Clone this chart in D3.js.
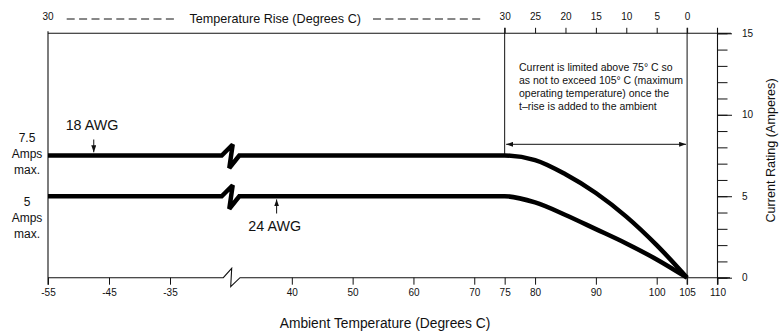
<!DOCTYPE html>
<html>
<head>
<meta charset="utf-8">
<script src="https://cdn.jsdelivr.net/npm/d3@7"></script>
<style>
  body { margin: 0; background: #fff; }
  svg text { font-family: "Liberation Sans", Arial, Helvetica, sans-serif; fill: #111; }
</style>
</head>
<body>
<script>
'use strict';
// values
const ambientTicks = [-55, -45, -35, 40, 50, 60, 70, 75, 80, 90, 100, 105, 110];
const riseTicks = [30, 25, 20, 15, 10, 5, 0];
const currentMinorTicks = [0, 1, 2, 3, 4, 5, 6, 7, 8, 9, 10, 11, 12, 13, 14, 15];
const currentLabels = [0, 5, 10, 15];
const lineTemps = [-55, -25, 30, 75, 80, 85, 90, 95, 100, 105];
const awg18Amps = [7.5, 7.5, 7.5, 7.5, 7.22, 6.35, 5.2, 3.75, 2.0, 0];
const awg24Amps = [5, 5, 5, 5, 4.62, 3.85, 2.98, 2.1, 1.12, 0];
const maxLabel18 = ["7.5", "Amps", "max."];
const maxLabel24 = ["5", "Amps", "max."];
const noteLines = [
  "Current is limited above 75\u00b0 C so",
  "as not to exceed 105\u00b0 C (maximum",
  "operating temperature) once the",
  "t\u2013rise is added to the ambient"
];

(function() {
  let svgContainer = "";
  const ink = "#111";

  window.onload = function() {
    svgContainer = d3.select('body')
      .append('svg')
      .attr('width', 779)
      .attr('height', 332);
    drawChart();
  }

  function drawChart() {
    // broken x scale: -55..-25 on the left, 30..110 on the right
    let xScale = d3.scaleLinear()
      .domain([-55, -25, 30, 110])
      .range([48, 231, 231, 717.5]);
    let yScale = d3.scaleLinear()
      .domain([0, 15])
      .range([277.7, 33.3]);
    // temperature rise runs backwards above 75..105 ambient
    let riseScale = d3.scaleLinear()
      .domain([30, 0])
      .range([xScale(75), xScale(105)]);

    let bx = xScale(-25);
    let y0 = yScale(0);
    let yTop = yScale(15);

    makeDefs();

    // frame lines
    hLine(xScale(-55), xScale(110) + 13.5, yTop, 1.1);
    vLine(xScale(-55), yTop - 2, y0 + 7, 1.1);
    vLine(xScale(110), yTop - 5.5, y0 + 7, 1.1);
    vLine(xScale(75), yTop - 5.5, yScale(7.5), 1);
    vLine(xScale(105), yTop - 5.5, y0 + 7, 1);

    // bottom axis line with break
    let straight = d3.line();
    svgContainer.append('path')
      .attr('d', straight([[xScale(-55), y0], [bx - 7.7, y0], [bx + 0.7, y0 - 9.4],
        [bx - 0.3, y0 + 9], [bx + 9, y0], [xScale(110) + 12.5, y0]]))
      .attr('fill', 'none')
      .attr('stroke', ink)
      .attr('stroke-width', 1.1);

    // bottom ticks
    let xAxis = d3.axisBottom(xScale)
      .tickValues(ambientTicks)
      .tickSize(7)
      .tickPadding(4.5)
      .tickFormat(d => String(d));
    let gx = svgContainer.append('g')
      .attr('transform', 'translate(0,' + y0 + ')')
      .attr('color', ink)
      .call(xAxis);
    styleAxis(gx, 10);

    // top ticks (temperature rise)
    let riseAxis = d3.axisTop(riseScale)
      .tickValues(riseTicks)
      .tickSize(5.5)
      .tickPadding(8.2)
      .tickFormat(d => String(d));
    let gt = svgContainer.append('g')
      .attr('transform', 'translate(0,' + yTop + ')')
      .attr('color', ink)
      .call(riseAxis);
    styleAxis(gt, 10);

    svgContainer.append('text')
      .attr('x', xScale(-55))
      .attr('y', 19.6)
      .attr('text-anchor', 'middle')
      .style('font-size', '10px')
      .text('30');

    // dashed leaders either side of the top title
    [[66.7, 176], [373, 483]].forEach(function(seg) {
      svgContainer.append('line')
        .attr('x1', seg[0]).attr('x2', seg[1])
        .attr('y1', 19).attr('y2', 19)
        .attr('stroke', ink)
        .attr('stroke-width', 1)
        .attr('stroke-dasharray', '8,4.4');
    });
    svgContainer.append('text')
      .attr('x', 275.2)
      .attr('y', 23)
      .attr('text-anchor', 'middle')
      .style('font-size', '12.6px')
      .text('Temperature Rise (Degrees C)');

    // right axis: minor + major ticks
    let minorAxis = d3.axisRight(yScale)
      .tickValues(currentMinorTicks)
      .tickSize(10)
      .tickFormat('');
    let gm = svgContainer.append('g')
      .attr('transform', 'translate(' + xScale(110) + ',0)')
      .attr('color', ink)
      .call(minorAxis);
    gm.select('.domain').remove();
    let majorAxis = d3.axisRight(yScale)
      .tickValues(currentLabels)
      .tickSize(14.5)
      .tickPadding(10)
      .tickFormat(d => String(d));
    let gM = svgContainer.append('g')
      .attr('transform', 'translate(' + xScale(110) + ',0)')
      .attr('color', ink)
      .call(majorAxis);
    styleAxis(gM, 10);

    svgContainer.append('text')
      .attr('transform', 'translate(775,150.5)rotate(-90)')
      .attr('text-anchor', 'middle')
      .style('font-size', '12.6px')
      .text('Current Rating (Amperes)');

    svgContainer.append('text')
      .attr('x', 385)
      .attr('y', 328)
      .attr('text-anchor', 'middle')
      .style('font-size', '13.8px')
      .text('Ambient Temperature (Degrees C)');

    // current curves
    plotCurve(xScale, yScale, awg18Amps, bx);
    plotCurve(xScale, yScale, awg24Amps, bx);

    // 75..105 span arrow
    svgContainer.append('line')
      .attr('x1', xScale(75) + 1.5).attr('x2', xScale(105) - 1)
      .attr('y1', 144.3).attr('y2', 144.3)
      .attr('stroke', ink)
      .attr('stroke-width', 1)
      .attr('marker-start', 'url(#headL)')
      .attr('marker-end', 'url(#headR)');

    // note text
    svgContainer.selectAll('.note')
      .data(noteLines)
      .enter()
      .append('text')
        .attr('class', 'note')
        .attr('x', 519)
        .attr('y', (d, i) => 71.4 + i * 13)
        .style('font-size', '10.5px')
        .text(d => d);

    // max current labels at the left
    makeStack(maxLabel18, 141.6);
    makeStack(maxLabel24, 206);

    // wire gauge labels with pointers
    svgContainer.append('text')
      .attr('x', 92)
      .attr('y', 130)
      .attr('text-anchor', 'middle')
      .style('font-size', '14.3px')
      .text('18 AWG');
    pointer(xScale(-47.5), 139.5, yScale(7.5) - 3.2);

    svgContainer.append('text')
      .attr('x', 274.7)
      .attr('y', 230.5)
      .attr('text-anchor', 'middle')
      .style('font-size', '14.3px')
      .text('24 AWG');
    pointer(xScale(37.5), 213.5, yScale(5) + 3.2);
  }

  // thick current line, flat part broken at the axis gap
  function plotCurve(xScale, yScale, amps, bx) {
    let rows = lineTemps.map((t, i) => ({ t: t, a: amps[i] }));
    let left = rows.filter(d => d.t <= -25);
    let right = rows.filter(d => d.t >= 30);
    let yv = yScale(left[0].a);

    let leftLine = d3.line()
      .x(d => Math.min(xScale(d.t), bx - 9.3))
      .y(d => yScale(d.a));
    let rightLine = d3.line()
      .x(d => Math.max(xScale(d.t), bx + 8.3))
      .y(d => yScale(d.a))
      .curve(d3.curveMonotoneX);

    let zig = d3.line()([[bx - 9.3, yv], [bx + 1.7, yv - 11], [bx - 1.7, yv + 12.5], [bx + 8.3, yv]]);
    let d = leftLine(left) + 'L' + zig.slice(1) + 'L' + rightLine(right).slice(1);

    svgContainer.append('path')
      .attr('d', d)
      .attr('fill', 'none')
      .attr('stroke', '#000')
      .attr('stroke-width', 4.5)
      .attr('stroke-linejoin', 'miter')
      .attr('stroke-miterlimit', 3);
  }

  function makeStack(lines, y) {
    svgContainer.selectAll(null)
      .data(lines)
      .enter()
      .append('text')
        .attr('x', 27)
        .attr('y', (d, i) => y + i * 16)
        .attr('text-anchor', 'middle')
        .style('font-size', '12px')
        .text(d => d);
  }

  function pointer(x, yFrom, yTo) {
    svgContainer.append('line')
      .attr('x1', x).attr('x2', x)
      .attr('y1', yFrom).attr('y2', yTo)
      .attr('stroke', ink)
      .attr('stroke-width', 1)
      .attr('marker-end', 'url(#headR)');
  }

  function hLine(x1, x2, y, w) {
    svgContainer.append('line')
      .attr('x1', x1).attr('x2', x2)
      .attr('y1', y).attr('y2', y)
      .attr('stroke', ink)
      .attr('stroke-width', w);
  }

  function vLine(x, y1, y2, w) {
    svgContainer.append('line')
      .attr('x1', x).attr('x2', x)
      .attr('y1', y1).attr('y2', y2)
      .attr('stroke', ink)
      .attr('stroke-width', w);
  }

  function styleAxis(g, size) {
    g.select('.domain').remove();
    g.attr('font-family', null);
    g.selectAll('line').attr('stroke-width', 1);
    g.selectAll('text').style('font-size', size + 'px');
  }

  // arrow heads
  function makeDefs() {
    let defs = svgContainer.append('defs');
    defs.append('marker')
      .attr('id', 'headR')
      .attr('markerUnits', 'userSpaceOnUse')
      .attr('viewBox', '0 0 7 5')
      .attr('markerWidth', 7)
      .attr('markerHeight', 5)
      .attr('refX', 7)
      .attr('refY', 2.5)
      .attr('orient', 'auto')
      .append('path')
        .attr('d', 'M0,0L7,2.5L0,5Z')
        .attr('fill', ink);
    defs.append('marker')
      .attr('id', 'headL')
      .attr('markerUnits', 'userSpaceOnUse')
      .attr('viewBox', '0 0 7 5')
      .attr('markerWidth', 7)
      .attr('markerHeight', 5)
      .attr('refX', 0)
      .attr('refY', 2.5)
      .attr('orient', 'auto')
      .append('path')
        .attr('d', 'M7,0L0,2.5L7,5Z')
        .attr('fill', ink);
  }

})();
</script>
</body>
</html>
